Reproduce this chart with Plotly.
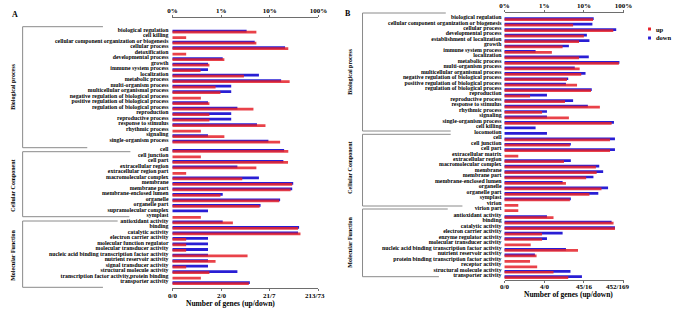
import math
import plotly.graph_objects as go

W, H = 683, 309

# ---------------- Panel A data (percent of genes) ----------------
a_terms = [
    "biological regulation", "cell killing", "cellular component organization or biogenesis",
    "cellular process", "detoxification", "developmental process", "growth",
    "immune system process", "localization", "metabolic process", "multi-organism process",
    "multicellular organismal process", "negative regulation of biological process",
    "positive regulation of biological process", "regulation of biological process",
    "reproduction", "reproductive process", "response to stimulus", "rhythmic process",
    "signaling", "single-organism process",
    "cell", "cell junction", "cell part", "extracellular region", "extracellular region part",
    "macromolecular complex", "membrane", "membrane part", "membrane-enclosed lumen",
    "organelle", "organelle part", "supramolecular complex",
    "symplast", "antioxidant activity", "binding", "catalytic activity",
    "electron carrier activity", "molecular function regulator", "molecular transducer activity",
    "nucleic acid binding transcription factor activity", "nutrient reservoir activity",
    "signal transducer activity", "structural molecule activity",
    "transcription factor activity,protein binding", "transporter activity",
]
a_up = [5.30, 0.191, 5.30, 24.0, 0.191, 1.165, 0.574, 0.378, 2.94, 25.6, 0.768, 0.968, 0.383,
        0.574, 4.61, 0.574, 0.574, 8.15, 0.383, 1.165, 16.3,
        24.0, 0.383, 23.7, 5.30, 0.191, 2.72, 28.9, 26.8, 0.968, 15.6, 6.18, None,
        0.383, 1.743, 38.1, 42.7, 0.191, 0.191, 0.191, 3.49, 0.768, 0.191, 0.574, 0.383, 3.71]
a_down = [3.34, None, 4.90, 20.6, None, 1.077, 0.537, 0.537, 5.98, 17.1, 1.611, 1.611, None,
          0.537, 2.158, 1.611, 1.611, 5.45, None, 0.537, 9.37,
          19.7, None, 19.0, 2.158, None, 5.98, 30.3, 28.9, 1.077, 16.3, 6.47, 0.537,
          None, 1.077, 40.0, 38.1, 0.537, 0.537, 0.537, 0.537, 0.537, 0.537, 2.158, None, 3.89]
a_group_sizes = [21, 12, 13]
a_pct_ticks = ["0%", "1%", "10%", "100%"]
a_gene_ticks = ["0/0", "2/0", "21/7", "213/73"]

# ---------------- Panel B data (percent of genes) ----------------
b_terms = [
    "biological regulation", "cellular component organization or biogenesis", "cellular process",
    "developmental process", "establishment of localization", "growth", "immune system process",
    "localization", "metabolic process", "multi-organism process",
    "multicellular organismal process", "negative regulation of biological process",
    "positive regulation of biological process", "regulation of biological process",
    "reproduction", "reproductive process", "response to stimulus", "rhythmic process",
    "signaling", "single-organism process", "cell killing", "locomotion",
    "cell", "cell junction", "cell part", "extracellular matrix", "extracellular region",
    "macromolecular complex", "membrane", "membrane part", "membrane-enclosed lumen",
    "organelle", "organelle part", "symplast", "virion", "virion part",
    "antioxidant activity", "binding", "catalytic activity", "electron carrier activity",
    "enzyme regulator activity", "molecular transducer activity",
    "nucleic acid binding transcription factor activity", "nutrient reservoir activity",
    "protein binding transcription factor activity", "receptor activity",
    "structural molecule activity", "transporter activity",
]
b_up = [17.0, 5.35, 55.1, 10.0, 7.53, 2.91, 1.56, 7.53, 76.1, 7.83, 8.58, 3.74, 6.72, 15.1,
        0.44, 3.34, 25.3, 0.883, 4.19, 50.0, None, None,
        45.6, 4.44, 45.6, 0.222, 3.15, 20.1, 21.0, 11.4, 3.53, 27.8, 13.8, 4.44, 0.222, 0.222,
        1.717, 56.0, 60.7, 0.883, 0.883, 0.456, 7.11, 0.642, 0.439, 0.664, 1.717, 4.03]
b_down = [17.7, 16.4, 65.3, 11.9, 13.8, 4.19, 0.606, 13.3, 78.7, 5.89, 11.0, 4.03, 3.53, 15.8,
          1.173, 5.35, 12.6, 1.173, 1.173, 57.3, 0.606, 1.173,
          60.7, 4.69, 60.7, None, 4.69, 24.4, 30.6, 17.4, 2.91, 40.7, 23.1, 4.69, None, None,
          1.173, 50.0, 60.7, 2.91, 1.173, None, 3.53, 0.583, None, None, 4.59, 8.93]
b_group_sizes = [22, 14, 12]
b_pct_ticks = ["0%", "1%", "10%", "100%"]
b_gene_ticks = ["0/0", "4/0", "45/16", "452/169"]

group_names = ["Biological process", "Cellular Component", "Molecular Function"]
pct_vals = [0.1, 1, 10, 100]

RED = "#e6222a"
BLUE = "#2a1fd4"
SERIF = "Liberation Serif"


def positions(sizes, gaps):
    pos, start = [], 0.0
    for n, g in zip(sizes, gaps):
        start += g
        pos += [start + i for i in range(n)]
        start += n
    return pos


a_pos = positions(a_group_sizes, [0, 0.7, 0])
b_pos = positions(b_group_sizes, [0, 0, 0.27])


def px(x):
    return x / W


def py(y):
    return 1 - y / H


fig = go.Figure()

for (xa, ya, pos, up, down) in [("x", "y", a_pos, a_up, a_down),
                               ("x2", "y2", b_pos, b_up, b_down)]:
    fig.add_trace(go.Bar(y=pos, x=down, orientation="h", marker_color=BLUE,
                         offset=-0.34, width=0.5, xaxis=xa, yaxis=ya, name="down",
                         showlegend=False, marker_line_width=0))
    fig.add_trace(go.Bar(y=pos, x=up, orientation="h", marker_color=RED, opacity=0.85,
                         offset=-0.16, width=0.5, xaxis=xa, yaxis=ya, name="up",
                         showlegend=False, marker_line_width=0))

# empty traces to carry the bottom gene-count axes
fig.add_trace(go.Scatter(x=[], y=[], xaxis="x3", yaxis="y", showlegend=False))
fig.add_trace(go.Scatter(x=[], y=[], xaxis="x4", yaxis="y2", showlegend=False))

axis_line = "#6e6e6e"
tick_font = dict(family=SERIF, size=7, color="black", weight="bold")
label_font = dict(family=SERIF, size=5.8, color="black", weight="bold")

common_x = dict(type="log", range=[-1, 2], tickvals=pct_vals, showgrid=False, zeroline=False,
                showline=True, linecolor=axis_line, linewidth=1, ticks="outside", ticklen=2,
                tickcolor=axis_line, tickfont=tick_font, fixedrange=True)

fig.update_layout(
    width=W, height=H, margin=dict(l=0, r=0, t=0, b=0),
    paper_bgcolor="white", plot_bgcolor="white",
    barmode="overlay", showlegend=False,
    xaxis=dict(common_x, domain=[px(171), px(320)], side="top", anchor="y",
               ticktext=a_pct_ticks),
    xaxis3=dict(common_x, overlaying="x", side="bottom", anchor="y",
                showticklabels=False),
    xaxis2=dict(common_x, domain=[px(510), px(631.5)], side="top", anchor="y2",
                ticktext=b_pct_ticks),
    xaxis4=dict(common_x, overlaying="x2", side="bottom", anchor="y2",
                showticklabels=False),
    yaxis=dict(domain=[py(288.3), py(18.3)], range=[46.66, -2.40], anchor="x",
               tickvals=[p - 0.3 for p in a_pos], ticktext=a_terms, tickfont=label_font,
               showgrid=False, zeroline=False, showline=False, ticks="",
               ticklabelstandoff=3, fixedrange=True),
    yaxis2=dict(domain=[py(280), py(13.3)], range=[47.78, -1.08], anchor="x2",
                tickvals=[p - 0.4 for p in b_pos], ticktext=b_terms, tickfont=label_font,
                showgrid=False, zeroline=False, showline=False, ticks="",
                ticklabelstandoff=2, fixedrange=True),
)

# bottom gene-count tick labels, placed on the data x scale
for xref, ticks, ylab, last_shift in [("x", a_gene_ticks, 295.5, -3),
                                      ("x2", b_gene_ticks, 286.5, -6)]:
    for i, (v, t) in enumerate(zip(pct_vals, ticks)):
        fig.add_annotation(text=t, x=math.log10(v), xref=xref, y=py(ylab), yref="paper",
                           showarrow=False, font=tick_font, xanchor="center",
                           yanchor="middle", xshift=last_shift if i == 3 else 0)

# group brackets (decoration, pixel layout)
bracket_color = "#8a8a8a"
brackets = [
    (18, 26.7, 147.7, 100, 84),
    (18, 151.7, 216.7, 128, 127),
    (18, 221.0, 287.3, 115, 100),
    (365, 13.0, 131.0, 450, 455),
    (365, 134.3, 206.0, 455, 467),
    (365, 209.0, 276.7, 452, 443),
]
for x0, yt, yb, xt, xb in brackets:
    for (xa, ya, xb_, yb_) in [(x0, yt, xt, yt), (x0, yt, x0, yb), (x0, yb, xb, yb)]:
        fig.add_shape(type="line", xref="paper", yref="paper",
                      x0=px(xa), y0=py(ya), x1=px(xb_), y1=py(yb_),
                      line=dict(color=bracket_color, width=1))

# group names (rotated)
grp_font = dict(family=SERIF, size=6, color="black", weight="bold")
for x, ys in [(8, [87, 186, 255]), (352, [72, 168, 242])]:
    for name, yc in zip(group_names, ys):
        fig.add_annotation(text=name, x=px(x), y=py(yc), xref="paper", yref="paper",
                           textangle=-90, showarrow=False, font=grp_font,
                           xanchor="center", yanchor="middle")

# panel letters
for letter, x, y in [("A", 10, 15), ("B", 350, 13)]:
    fig.add_annotation(text=letter, x=px(x), y=py(y), xref="paper", yref="paper",
                       showarrow=False, font=dict(family=SERIF, size=8, color="black",
                                                  weight="bold"),
                       xanchor="center", yanchor="middle")

# axis titles
for x, y in [(230, 303), (575, 294.5)]:
    fig.add_annotation(text="Number of genes (up/down)", x=px(x), y=py(y),
                       xref="paper", yref="paper", showarrow=False,
                       font=dict(family=SERIF, size=7.5, color="black", weight="bold"),
                       xanchor="center", yanchor="middle")

# legend (panel B)
leg_font = dict(family=SERIF, size=6.5, color="black", weight="bold")
for name, col, y in [("up", RED, 29), ("down", BLUE, 38)]:
    fig.add_shape(type="rect", xref="paper", yref="paper",
                  x0=px(656.5), x1=px(659.5), y0=py(y + 1.5), y1=py(y - 1.5),
                  fillcolor=col, line=dict(width=0))
    fig.add_annotation(text=name, x=px(663), y=py(y), xref="paper", yref="paper",
                       showarrow=False, font=leg_font, xanchor="left", yanchor="middle")

fig.write_html("out.html", config={"displayModeBar": False},
               post_script="document.body.style.margin='0';")
